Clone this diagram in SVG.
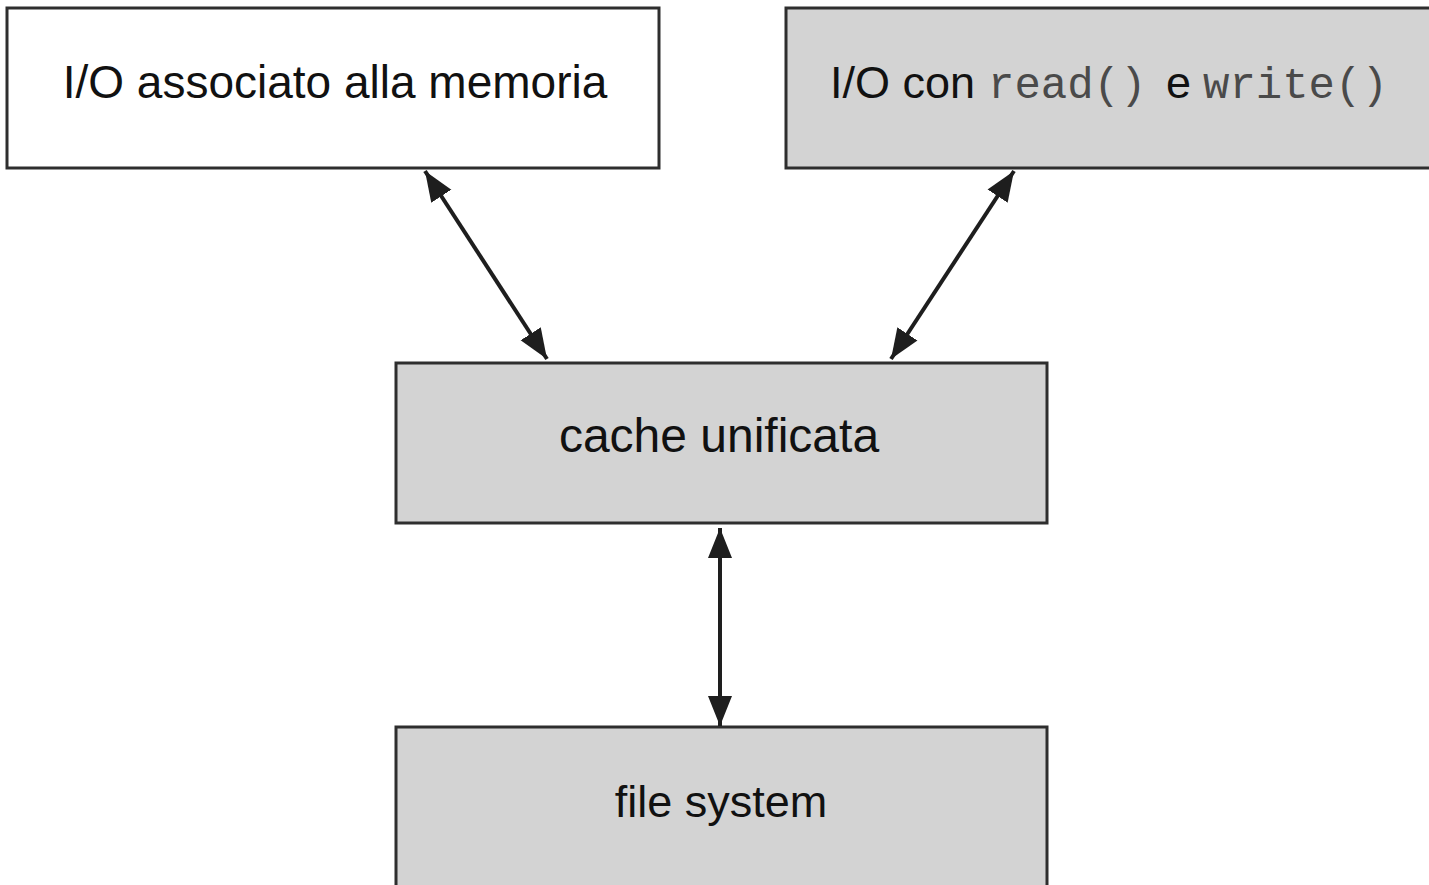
<svg xmlns="http://www.w3.org/2000/svg" width="1429" height="885" viewBox="0 0 1429 885">
<style>
.box{stroke:#2e2e2e;stroke-width:3}
.white{fill:#ffffff}
.gray{fill:#d3d3d3}
.lbl{font-family:"Liberation Sans",Arial,sans-serif;font-size:45px;fill:#111}
.mono{font-family:"Liberation Mono","Courier New",monospace;font-size:44px;fill:#4a4a4a}
.conn{stroke:#1e1e1e;stroke-width:4;fill:none;marker-start:url(#ah);marker-end:url(#ah)}
</style>
<defs>
<marker id="ah" markerUnits="userSpaceOnUse" markerWidth="32" markerHeight="26" refX="30" refY="12" orient="auto-start-reverse" viewBox="0 0 32 24">
<path d="M0,0 L30,12 L0,24 Z" fill="#1e1e1e"/>
</marker>
</defs>
<rect width="1429" height="885" fill="#ffffff"/>
<g id="node-mmio">
<rect class="box white" x="7" y="8" width="652" height="160"/>
<text class="lbl" x="335" y="98" text-anchor="middle" style="font-size:46px">I/O associato alla memoria</text>
</g>
<g id="node-rw">
<rect class="box gray" x="786" y="8" width="660" height="160"/>
<text class="lbl" x="830" y="98">I/O con <tspan class="mono" x="988">read()</tspan><tspan x="1166">e</tspan><tspan class="mono" x="1203">write()</tspan></text>
</g>
<g id="node-cache">
<rect class="box gray" x="396" y="363" width="651" height="160"/>
<text class="lbl" x="719" y="452" text-anchor="middle" style="font-size:48px">cache unificata</text>
</g>
<g id="node-fs">
<rect class="box gray" x="396" y="727" width="651" height="175"/>
<text class="lbl" x="721" y="817" text-anchor="middle">file system</text>
</g>
<g id="connectors">
<line class="conn" x1="425" y1="171" x2="547" y2="359"/>
<line class="conn" x1="1014" y1="171" x2="891" y2="359"/>
<line class="conn" x1="720" y1="528" x2="720" y2="726"/>
</g>
</svg>
